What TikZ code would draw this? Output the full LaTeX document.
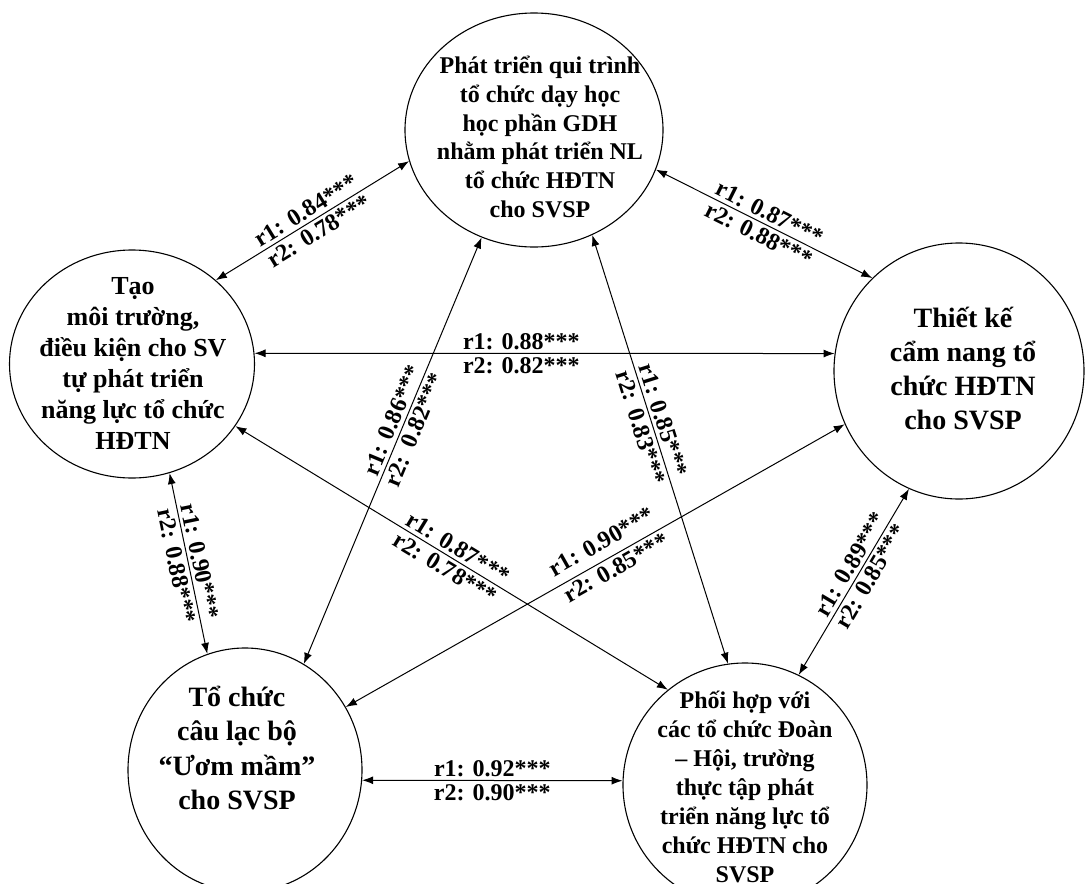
\documentclass[tikz,border=0pt]{standalone}
\usepackage{fontspec}
\setmainfont{Liberation Serif}
\usetikzlibrary{shapes.geometric,arrows.meta}
\begin{document}
\begin{tikzpicture}[x=1pt,y=-1pt,
  bub/.style={draw, ellipse, line width=1.1pt, inner sep=0pt},
  txt/.style={align=center, inner sep=0pt},
  con/.style={{Latex[length=11pt,width=8pt]}-{Latex[length=11pt,width=8pt]}, line width=1pt},
  lab/.style={sloped, font=\fontsize{24}{28}\selectfont\bfseries}
]
\useasboundingbox (0,0) rectangle (1085,884);
% circles
\node[bub, minimum width=258, minimum height=234] (T) at (534,130) {};
\node[bub, minimum width=245, minimum height=228] (L) at (132,364) {};
\node[bub, minimum width=250, minimum height=256] (R) at (959,371) {};
\node[bub, minimum width=234, minimum height=244] (BL) at (245,770) {};
\node[bub, minimum width=244, minimum height=244] (BR) at (745,785) {};
% texts
\node[txt, font=\fontsize{24}{28.8}\selectfont\bfseries] (Tt) at (540,137) {Phát triển qui trình\\tổ chức dạy học\\học phần GDH\\nhằm phát triển NL\\tổ chức HĐTN\\cho SVSP};
\node[txt, font=\fontsize{26}{31}\selectfont\bfseries] (Lt) at (133,364) {Tạo\\môi trường,\\điều kiện cho SV\\tự phát triển\\năng lực tổ chức\\HĐTN};
\node[txt, font=\fontsize{28}{34}\selectfont\bfseries] (Rt) at (963,369) {Thiết kế\\cẩm nang tổ\\chức HĐTN\\cho SVSP};
\node[txt, font=\fontsize{28}{34.4}\selectfont\bfseries] (BLt) at (237,748) {Tổ chức\\câu lạc bộ\\“Ươm mầm”\\cho SVSP};
\node[txt, font=\fontsize{24}{28.9}\selectfont\bfseries] (BRt) at (745,787) {Phối hợp với\\các tổ chức Đoàn\\– Hội, trường\\thực tập phát\\triển năng lực tổ\\chức HĐTN cho\\SVSP};
% connectors
\draw[con] (L.45) -- node[lab,above]{r1: 0.84***} node[lab,below]{r2: 0.78***} (T.194);
\draw[con] (T.342) -- node[lab,above]{r1: 0.87***} node[lab,below]{r2: 0.88***} (R.133);
\draw[con] (L.5) -- node[lab,above,pos=0.46]{r1: 0.88***} node[lab,below,pos=0.46]{r2: 0.82***} (R.172);
\draw[con] (L.289) -- node[lab,above]{r1: 0.90***} node[lab,below]{r2: 0.88***} (BL.108);
\draw[con] (BL.61) -- node[lab,above,pos=0.56]{r1: 0.86***} node[lab,below,pos=0.56]{r2:\hspace{12pt}0.82***} (T.244);
\draw[con] (T.299) -- node[lab,above,pos=0.44]{r1: 0.85***} node[lab,below,pos=0.44]{r2:\hspace{10pt}0.83***} (BR.98);
\draw[con] (L.329) -- node[lab,above]{r1: 0.87***} node[lab,below]{r2: 0.78***} (BR.129);
\draw[con] (R.205) -- node[lab,above=6pt,pos=0.47]{r1: 0.90***} node[lab,below,pos=0.47]{r2: 0.85***} (BL.32);
\draw[con] (BR.64) -- node[lab,above,pos=0.56]{r1: 0.89***} node[lab,below,pos=0.56]{r2: 0.85***} (R.247);
\draw[con] (BL.355) -- node[lab,above]{r1: 0.92***} node[lab,below]{r2: 0.90***} (BR.178);
\end{tikzpicture}
\end{document}
